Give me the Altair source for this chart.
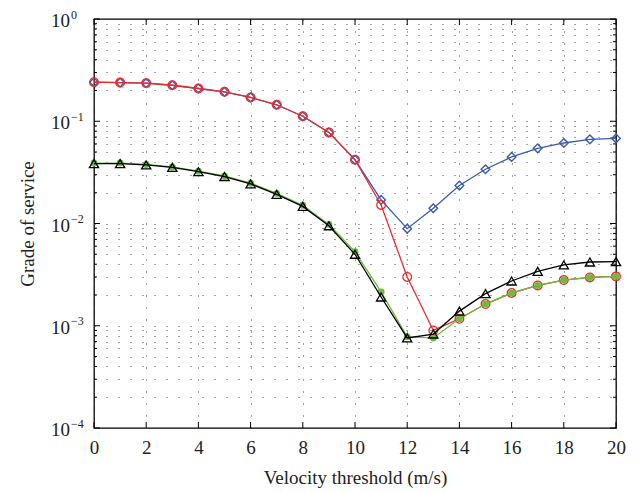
import altair as alt
import pandas as pd

# ---- data ----
velocity = list(range(21))
blue_vals = [0.241, 0.239, 0.236, 0.225, 0.209, 0.194, 0.171, 0.145, 0.112, 0.0778, 0.042,
             0.017, 0.0089, 0.0141, 0.0235, 0.0339, 0.0448, 0.0543, 0.0613, 0.0665, 0.068]
red_vals = [0.241, 0.239, 0.236, 0.225, 0.209, 0.194, 0.171, 0.145, 0.112, 0.0778, 0.042,
            0.0152, 0.0030, 0.0009, 0.00117, 0.00163, 0.00209, 0.00248, 0.0028, 0.00297, 0.00304]
black_vals = [0.0385, 0.0385, 0.0374, 0.0354, 0.0321, 0.0288, 0.0244, 0.0193, 0.0147, 0.0095, 0.0050,
              0.00191, 0.00076, 0.00083, 0.00139, 0.00206, 0.00274, 0.0034, 0.00393, 0.0042, 0.00424]
green_vals = [0.039, 0.039, 0.0378, 0.0357, 0.0325, 0.0292, 0.0248, 0.0197, 0.0151, 0.0098, 0.0053,
              0.00214, 0.00078, 0.00076, 0.00117, 0.00163, 0.00209, 0.00248, 0.0028, 0.00297, 0.00304]

x_ticks = [0, 2, 4, 6, 8, 10, 12, 14, 16, 18, 20]
y_major = [1.0, 1e-1, 1e-2, 1e-3, 1e-4]
y_base_labels = ["10", "10", "10", "10", "10"]
y_exponents = ["0", "\u22121", "\u22122", "\u22123", "\u22124"]
y_minor = [round(k * 10.0 ** e, 6 - e) for e in (-4, -3, -2, -1) for k in range(2, 10)]
y_all = sorted(y_major + y_minor)

W, H = 522, 409
FONT = "Liberation Serif"
FS = 19

xscale = alt.Scale(domain=[0, 20], nice=False, zero=False)
yscale = alt.Scale(type="log", domain=[1e-4, 1], nice=False)

xaxis = alt.Axis(values=x_ticks, grid=True, gridDash=[1, 11], gridColor="#444", gridWidth=1,
                 ticks=False, domain=False, labelFlush=False, labelOverlap=False,
                 labelPadding=10, labelFontSize=FS, labelFont=FONT, labelColor="#222",
                 title="Velocity threshold (m/s)", titleFont=FONT, titleFontSize=FS,
                 titleFontWeight="normal", titleColor="#222", titlePadding=11)
yaxis = alt.Axis(values=y_all, grid=True, gridDash=[1, 11], gridColor="#444", gridWidth=1,
                 ticks=False, domain=False, labels=False,
                 title="Grade of service", titleFont=FONT, titleFontSize=FS,
                 titleFontWeight="normal", titleColor="#222", titlePadding=57)

X = alt.X("v:Q", scale=xscale, axis=xaxis)
Y = alt.Y("g:Q", scale=yscale, axis=yaxis)


def series(vals, color, shape, size, filled, sw=1.2):
    df = pd.DataFrame({"v": velocity, "g": vals})
    base = alt.Chart(df).encode(x=X, y=Y)
    line = base.mark_line(color=color, strokeWidth=1.3)
    if filled:
        pts = base.mark_point(shape=shape, size=size, filled=True, color=color, opacity=1)
    else:
        pts = base.mark_point(shape=shape, size=size, filled=False, color=color,
                              strokeWidth=sw, opacity=1)
    return line + pts


blue = series(blue_vals, "#3a5caa", "diamond", 75, False, sw=1.4)
red = series(red_vals, "#ee2a2a", "circle", 75, False, sw=1.3)
green = series(green_vals, "#6cbd3c", "circle", 48, True)
black = series(black_vals, "#000000", "triangle-up", 85, False, sw=1.3)

# inward tick marks on all four sides
xt = pd.DataFrame({"v": x_ticks})
ymaj = pd.DataFrame({"g": y_major, "b": y_base_labels, "e": y_exponents})
ymin = pd.DataFrame({"g": y_minor})
tick_style = dict(color="black", strokeWidth=1)
xb = alt.Chart(xt).mark_rule(**tick_style).encode(x=X, y=alt.value(H), y2=alt.value(H - 6))
xtop = alt.Chart(xt).mark_rule(**tick_style).encode(x=X, y=alt.value(0), y2=alt.value(6))
yl_maj = alt.Chart(ymaj).mark_rule(**tick_style).encode(y=Y, x=alt.value(0), x2=alt.value(6))
yr_maj = alt.Chart(ymaj).mark_rule(**tick_style).encode(y=Y, x=alt.value(W), x2=alt.value(W - 6))
yl_min = alt.Chart(ymin).mark_rule(**tick_style).encode(y=Y, x=alt.value(0), x2=alt.value(3))
yr_min = alt.Chart(ymin).mark_rule(**tick_style).encode(y=Y, x=alt.value(W), x2=alt.value(W - 3))

# y tick labels as 10 with a raised exponent
lab_base = alt.Chart(ymaj).mark_text(
    align="right", baseline="middle", font=FONT, fontSize=FS, color="#222", dy=2
).encode(y=Y, x=alt.value(-24), text="b:N")
lab_exp = alt.Chart(ymaj).mark_text(
    align="left", baseline="middle", font=FONT, fontSize=12, color="#222", dy=-4.5
).encode(y=Y, x=alt.value(-23), text="e:N")

chart = alt.layer(
    xb, xtop, yl_maj, yr_maj, yl_min, yr_min,
    blue, red, green, black, lab_base, lab_exp,
).properties(
    width=W, height=H,
    autosize=alt.AutoSizeParams(type="none"),
    padding={"left": 86, "top": 11, "right": 16, "bottom": 64},
    background="white",
).configure_view(stroke="black", strokeWidth=1.3)

chart.save("out.html", embed_options={"renderer": "svg", "actions": False})
